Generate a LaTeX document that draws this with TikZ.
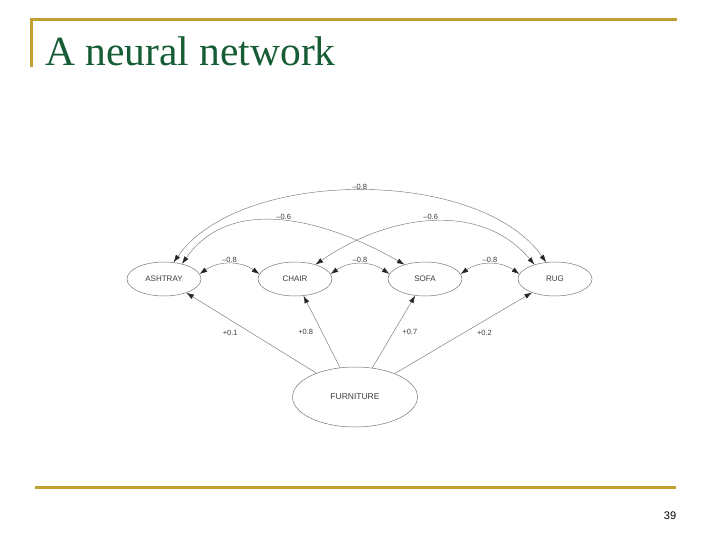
\documentclass[tikz,border=0pt]{standalone}
\usepackage{fontspec}
\setmainfont{Liberation Serif}
\setsansfont{Liberation Sans}
\usetikzlibrary{arrows.meta,shapes.geometric}
\definecolor{rulegold}{RGB}{192,160,48}
\definecolor{titlegreen}{RGB}{22,92,52}
\definecolor{linegray}{RGB}{120,120,120}
\definecolor{textgray}{RGB}{60,60,60}

\begin{document}
\begin{tikzpicture}[x=1pt,y=1pt,
  concept/.style={ellipse,draw=linegray,line width=0.5pt,
                  minimum width=74pt,minimum height=34pt,inner sep=0pt,
                  font=\sffamily\fontsize{8}{9}\selectfont,text=textgray},
  bigconcept/.style={concept,minimum width=125pt,minimum height=60pt,
                     font=\sffamily\fontsize{8.5}{9}\selectfont},
  link/.style={draw=linegray,line width=0.45pt,
               -{Latex[length=7.5pt,width=5pt,color=black!85]}},
  twoway/.style={link,
                 {Latex[length=7.5pt,width=5pt,color=black!85]}-{Latex[length=7.5pt,width=5pt,color=black!85]}},
  weight/.style={font=\sffamily\fontsize{7.5}{8}\selectfont,text=textgray,inner sep=1.5pt},
  rule/.style={draw=rulegold,line width=3pt}
]
\fill[white] (0,0) rectangle (720,-540);
\useasboundingbox (0,0) rectangle (720,-540);

% slide frame
\draw[rule] (30,-19.5) -- (677,-19.5);
\draw[rule] (31.5,-18) -- (31.5,-67);
\draw[rule] (35,-487) -- (676,-487);
\node[anchor=base west,inner sep=0pt,text=titlegreen,
      font=\fontsize{41.5}{48}\selectfont] (title) at (45,-66) {A neural network};
\node[font=\sffamily\fontsize{11}{12}\selectfont] (pagenum) at (670,-516) {39};

% concepts
\node[concept] (ashtray) at (164,-279) {ASHTRAY};
\node[concept] (chair)   at (295,-279) {CHAIR};
\node[concept] (sofa)    at (425,-279) {SOFA};
\node[concept] (rug)     at (555,-279) {RUG};
\node[bigconcept] (furniture) at (355,-397) {FURNITURE};

% lateral connections
\draw[twoway] (ashtray.8) to[out=35,in=145] node[weight,above] {--0.8} (chair.172);
\draw[twoway] (chair.8)   to[out=35,in=145] node[weight,above] {--0.8} (sofa.172);
\draw[twoway] (sofa.8)    to[out=35,in=145] node[weight,above] {--0.8} (rug.172);
\draw[twoway] (ashtray.40) to[out=55,in=150] node[weight,above] {--0.6} (sofa.145);
\draw[twoway] (chair.35)   to[out=35,in=130] node[weight,above] {--0.6} (rug.145);
\draw[twoway] (ashtray.60) to[out=55,in=125,looseness=0.8] node[weight,above] {--0.8} (rug.118);

% feed-forward connections
\draw[link] (furniture) -- node[weight,midway,left=12pt]  {+0.1} (ashtray);
\draw[link] (furniture) -- node[weight,midway,left=7pt]   {+0.8} (chair);
\draw[link] (furniture) -- node[weight,midway,right=7pt]  {+0.7} (sofa);
\draw[link] (furniture) -- node[weight,midway,right=12pt] {+0.2} (rug);
\end{tikzpicture}
\end{document}
